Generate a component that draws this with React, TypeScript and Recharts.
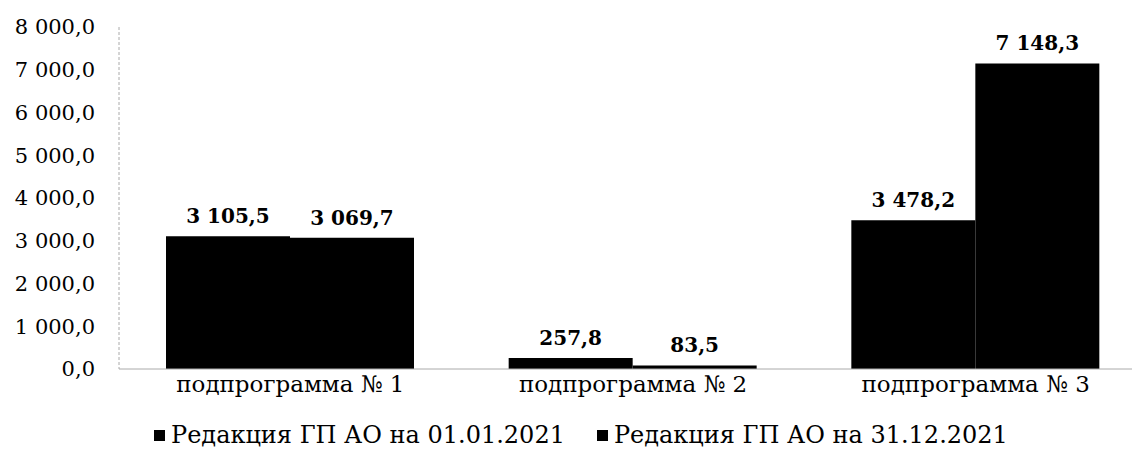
import { Bar, BarChart, LabelList, Legend, XAxis, YAxis } from 'recharts'

const categories = ['подпрограмма № 1', 'подпрограмма № 2', 'подпрограмма № 3']
const edition0101 = [3105.5, 257.8, 3478.2]
const edition3112 = [3069.7, 83.5, 7148.3]
const seriesNames = ['Редакция ГП АО на 01.01.2021', 'Редакция ГП АО на 31.12.2021']
const yTicks = [0, 1000, 2000, 3000, 4000, 5000, 6000, 7000, 8000]

const data = categories.map((name, i) => ({
  name,
  a: edition0101[i],
  b: edition3112[i],
}))

const font = '"DejaVu Serif", serif'

// 3105.5 -> "3 105,5"
const fmt = (v: number) => {
  const [int, dec] = v.toFixed(1).split('.')
  return int.replace(/\B(?=(\d{3})+(?!\d))/g, ' ') + ',' + dec
}

function LegendContent() {
  return (
    <div style={{ display: 'flex', fontFamily: font, fontSize: 24, color: '#000', lineHeight: '24px' }}>
      {seriesNames.map((n, i) => (
        <div key={n} style={{ display: 'flex', alignItems: 'center', marginRight: i === 0 ? 32 : 0 }}>
          <span style={{ width: 11, height: 11, background: '#000', marginRight: 6, display: 'inline-block' }} />
          <span>{n}</span>
        </div>
      ))}
    </div>
  )
}

export default function App() {
  return (
    <div style={{ position: 'absolute', left: 0, top: 0, width: 1132, height: 452, overflow: 'hidden', background: '#fff' }}>
      <BarChart
        width={1160}
        height={452}
        data={data}
        margin={{ top: 27, right: 13, left: 0, bottom: 29 }}
        barCategoryGap={47}
        barGap={0}
      >
        <XAxis
          dataKey='name'
          height={30}
          tickLine={false}
          tickSize={0}
          tickMargin={7}
          stroke='#aaaaaa'
          tick={{ fill: '#000', fontFamily: font, fontSize: 23 }}
        />
        <YAxis
          width={119}
          domain={[0, 8000]}
          ticks={yTicks}
          tickFormatter={fmt}
          tickLine={false}
          tickSize={0}
          tickMargin={24}
          stroke='#aaaaaa'
          strokeDasharray='3 2'
          tick={{ fill: '#000', fontFamily: font, fontSize: 21 }}
        />
        <Legend
          verticalAlign='bottom'
          content={<LegendContent />}
          wrapperStyle={{ top: 423, left: 154, height: 24, width: 'auto' }}
        />
        <Bar dataKey='a' name={seriesNames[0]} fill='#000' isAnimationActive={false}>
          <LabelList
            dataKey='a'
            position='top'
            offset={13}
            formatter={(v: any) => fmt(Number(v))}
            style={{ fill: '#000', fontFamily: font, fontSize: 20, fontWeight: 'bold' }}
          />
        </Bar>
        <Bar dataKey='b' name={seriesNames[1]} fill='#000' isAnimationActive={false}>
          <LabelList
            dataKey='b'
            position='top'
            offset={13}
            formatter={(v: any) => fmt(Number(v))}
            style={{ fill: '#000', fontFamily: font, fontSize: 20, fontWeight: 'bold' }}
          />
        </Bar>
      </BarChart>
    </div>
  )
}
